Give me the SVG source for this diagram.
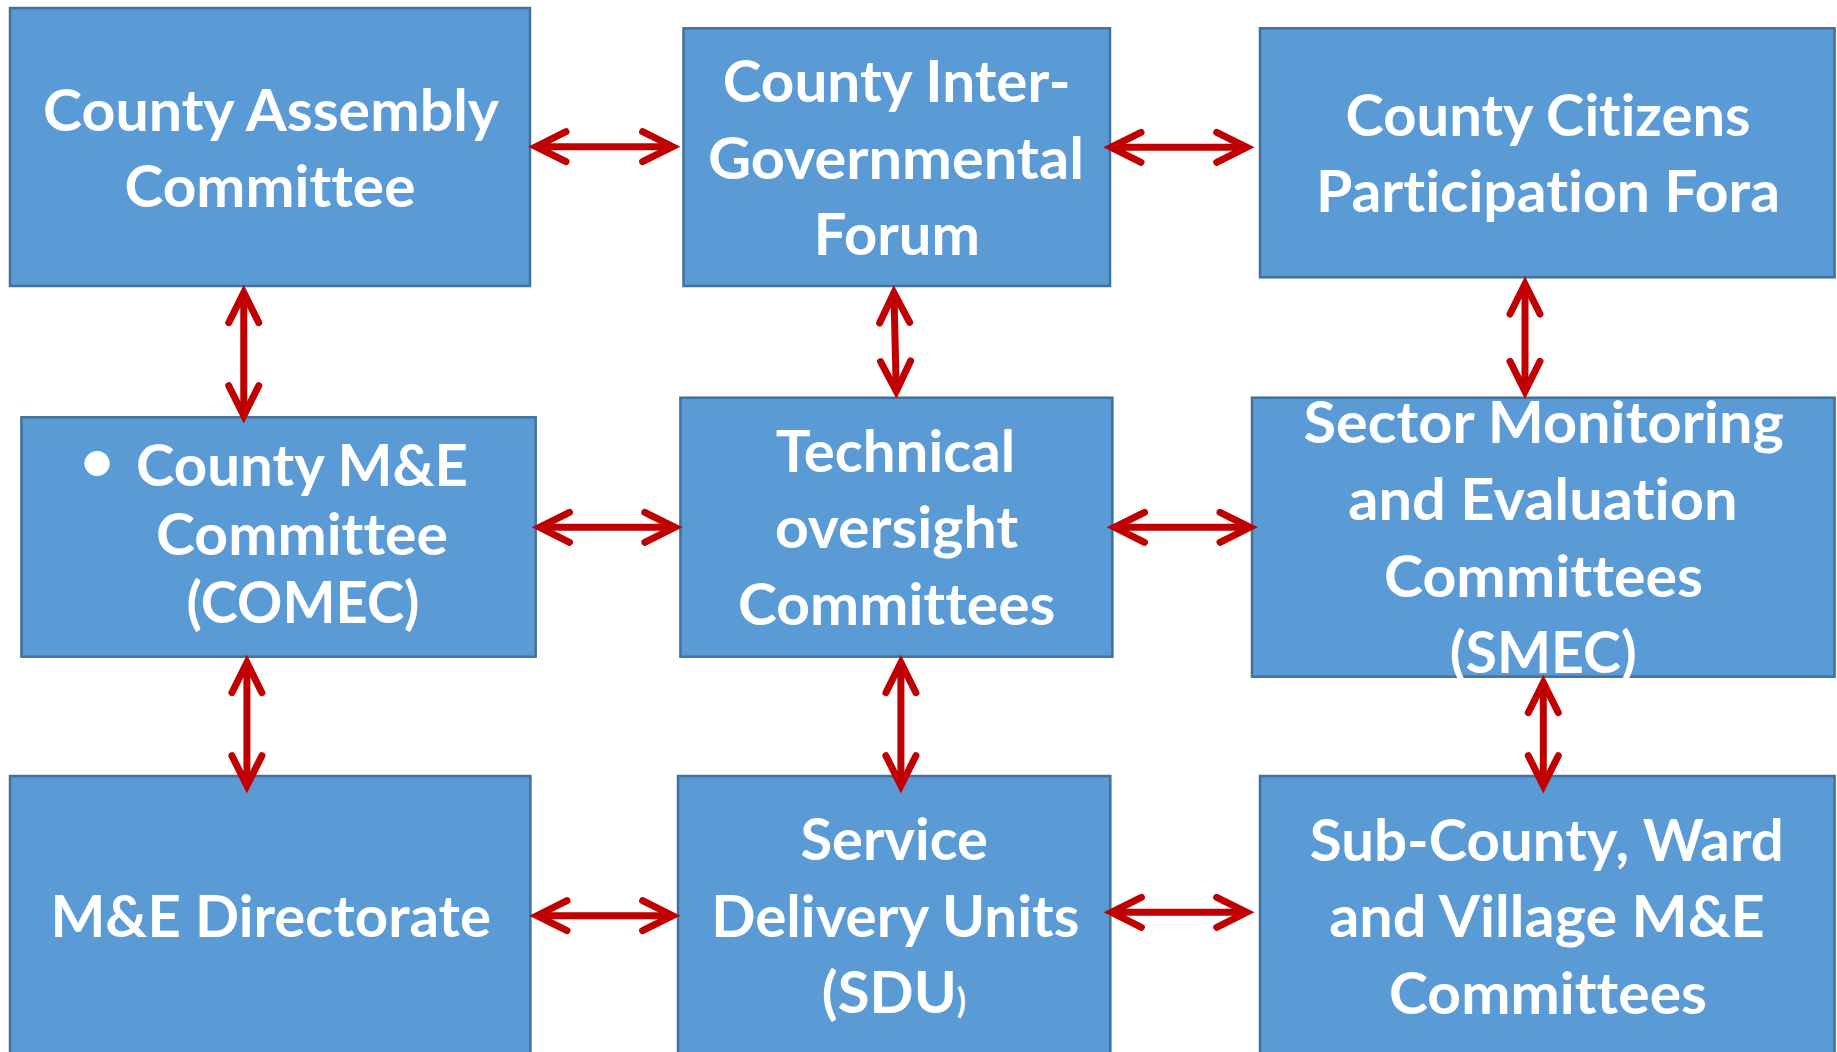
<svg xmlns="http://www.w3.org/2000/svg" width="1837" height="1052" viewBox="0 0 1837 1052">
<style>
.box{fill:#5B9BD5;stroke:#41719C;stroke-width:2.5}
.t{font-family:Lato,"Open Sans","Liberation Sans",sans-serif;font-weight:bold;font-size:58px;fill:#FFFFFF;text-anchor:middle;font-variant-ligatures:none;font-feature-settings:"liga" 0,"clig" 0,"dlig" 0}
.c{fill:none;stroke:#C00000;stroke-width:7}
</style>
<defs>
<marker id="ah" markerUnits="userSpaceOnUse" orient="auto-start-reverse" refX="0" refY="0" markerWidth="10" markerHeight="10" overflow="visible">
<path d="M -30,-15 L 0,0 L -30,15" fill="none" stroke="#C00000" stroke-width="7" stroke-linecap="round" stroke-linejoin="miter"/>
</marker>
</defs>
<rect width="1837" height="1052" fill="#FFFFFF"/>
<g id="county-assembly">
<rect class="box" x="10" y="8" width="520" height="278"/>
<text class="t" x="271" y="131" textLength="456" lengthAdjust="spacingAndGlyphs">County Assembly</text>
<text class="t" x="270" y="207" textLength="291" lengthAdjust="spacingAndGlyphs">Committee</text>
</g>
<g id="inter-governmental">
<rect class="box" x="683.5" y="28.3" width="426.5" height="257.7"/>
<text class="t" x="896.6" y="102" textLength="347.7" lengthAdjust="spacingAndGlyphs">County Inter-</text>
<text class="t" x="896" y="179" textLength="376" lengthAdjust="spacingAndGlyphs">Governmental</text>
<text class="t" x="896.9" y="255" textLength="166.2" lengthAdjust="spacingAndGlyphs">Forum</text>
</g>
<g id="citizens-fora">
<rect class="box" x="1260" y="28.3" width="574.6" height="249"/>
<text class="t" x="1548" y="136" textLength="405" lengthAdjust="spacingAndGlyphs">County Citizens</text>
<text class="t" x="1548" y="212.3" textLength="464" lengthAdjust="spacingAndGlyphs">Participation Fora</text>
</g>
<g id="comec">
<rect class="box" x="21.4" y="417.3" width="514.3" height="239.4"/>
<text class="t" x="97" y="481" font-size="44px">•</text>
<text class="t" x="302" y="485.7" textLength="332" lengthAdjust="spacingAndGlyphs">County M&amp;E</text>
<text class="t" x="302" y="555" textLength="291.8" lengthAdjust="spacingAndGlyphs">Committee</text>
<text class="t" x="303" y="623.3" textLength="233" lengthAdjust="spacingAndGlyphs">(COMEC)</text>
</g>
<g id="technical-oversight">
<rect class="box" x="680.4" y="397.7" width="432" height="259"/>
<text class="t" x="895.5" y="471.7" textLength="239.3" lengthAdjust="spacingAndGlyphs">Technical</text>
<text class="t" x="896.6" y="548.3" textLength="243.3" lengthAdjust="spacingAndGlyphs">oversight</text>
<text class="t" x="896.7" y="625" textLength="317.4" lengthAdjust="spacingAndGlyphs">Committees</text>
</g>
<g id="smec">
<rect class="box" x="1252" y="397.7" width="582.6" height="279"/>
<text class="t" x="1543.7" y="443.3" textLength="480.2" lengthAdjust="spacingAndGlyphs">Sector Monitoring</text>
<text class="t" x="1542.9" y="520" textLength="389.2" lengthAdjust="spacingAndGlyphs">and Evaluation</text>
<text class="t" x="1543.5" y="596.7" textLength="319" lengthAdjust="spacingAndGlyphs">Committees</text>
<text class="t" x="1543.2" y="673.3" textLength="186.9" lengthAdjust="spacingAndGlyphs">(SMEC)</text>
</g>
<g id="me-directorate">
<rect class="box" x="10" y="776" width="520.4" height="300"/>
<text class="t" x="270.7" y="936.7" textLength="440.6" lengthAdjust="spacingAndGlyphs">M&amp;E Directorate</text>
</g>
<g id="sdu">
<rect class="box" x="678" y="776" width="432.3" height="300"/>
<text class="t" x="894.2" y="860" textLength="187.6" lengthAdjust="spacingAndGlyphs">Service</text>
<text class="t" x="895.3" y="936.7" textLength="368.3" lengthAdjust="spacingAndGlyphs">Delivery Units</text>
<text class="t" x="894" y="1013.3">(SDU<tspan font-size="34px">)</tspan></text>
</g>
<g id="sub-county">
<rect class="box" x="1260" y="776" width="574.6" height="300"/>
<text class="t" x="1546.8" y="860.7" textLength="474.1" lengthAdjust="spacingAndGlyphs">Sub-County, Ward</text>
<text class="t" x="1547" y="937.3" textLength="435.5" lengthAdjust="spacingAndGlyphs">and Village M&amp;E</text>
<text class="t" x="1548" y="1014" textLength="318" lengthAdjust="spacingAndGlyphs">Committees</text>
</g>
<g id="connectors">
<line class="c" x1="536" y1="146.7" x2="672.6" y2="146.7" marker-start="url(#ah)" marker-end="url(#ah)"/>
<line class="c" x1="1111" y1="147.3" x2="1246.7" y2="147.3" marker-start="url(#ah)" marker-end="url(#ah)"/>
<line class="c" x1="243.75" y1="292.7" x2="243.75" y2="415.7" marker-start="url(#ah)" marker-end="url(#ah)"/>
<line class="c" x1="893.9" y1="292.7" x2="896.3" y2="391.3" marker-start="url(#ah)" marker-end="url(#ah)"/>
<line class="c" x1="1525" y1="284" x2="1525" y2="391.3" marker-start="url(#ah)" marker-end="url(#ah)"/>
<line class="c" x1="539.5" y1="527.3" x2="674.8" y2="527.3" marker-start="url(#ah)" marker-end="url(#ah)"/>
<line class="c" x1="1114.5" y1="527.3" x2="1250" y2="527.3" marker-start="url(#ah)" marker-end="url(#ah)"/>
<line class="c" x1="246.9" y1="662.7" x2="246.9" y2="785.7" marker-start="url(#ah)" marker-end="url(#ah)"/>
<line class="c" x1="900.9" y1="662.7" x2="900.9" y2="785.7" marker-start="url(#ah)" marker-end="url(#ah)"/>
<line class="c" x1="1543.3" y1="682.7" x2="1543.3" y2="785.7" marker-start="url(#ah)" marker-end="url(#ah)"/>
<line class="c" x1="537" y1="915.7" x2="672.6" y2="915.7" marker-start="url(#ah)" marker-end="url(#ah)"/>
<line class="c" x1="1111.4" y1="912.3" x2="1246.7" y2="912.3" marker-start="url(#ah)" marker-end="url(#ah)"/>
</g>
</svg>
